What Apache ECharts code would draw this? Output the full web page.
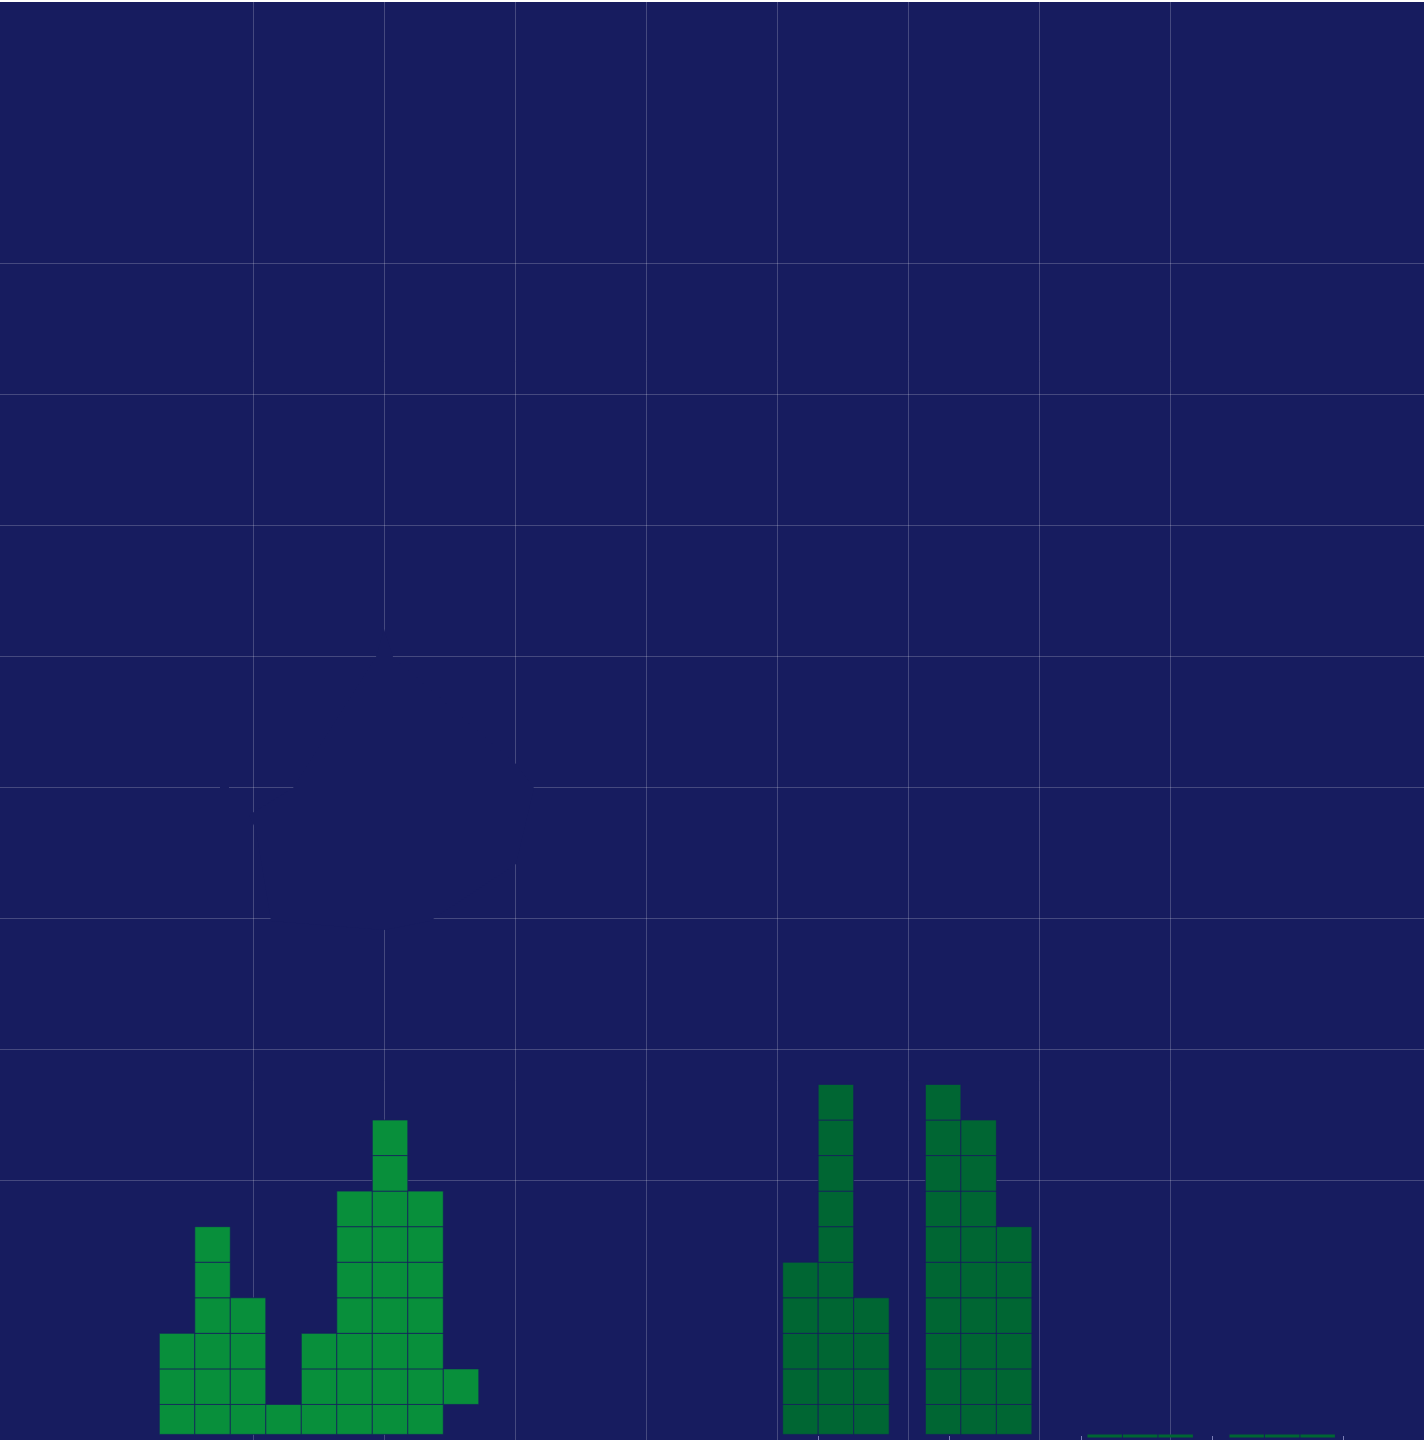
<!DOCTYPE html>
<html>
<head>
<meta charset="utf-8">
<script src="https://cdn.jsdelivr.net/npm/echarts@6/dist/echarts.min.js"></script>
<style>
html,body{margin:0;padding:0;background:#ffffff;}
#c{position:absolute;left:0;top:2px;width:1424px;height:1438px;}
</style>
</head>
<body>
<div id="c"></div>
<script>
// ---- data (cell units: one cell = one unit) ----
const lightColumns = [0, 1, 2, 3, 4, 5, 6, 7, 8];
const lightBase    = [0, 0, 0, 0, 0, 0, 0, 0, 1];
const lightCounts  = [3, 6, 4, 1, 3, 7, 9, 7, 1];

const darkGroupStarts = [17.56, 21.58, 26.13, 30.13];
const darkCounts = [
  [5, 10, 4],
  [10, 9, 6],
  [0, 0, 0],
  [0, 0, 0]
];

const gridSteps = 9;        // split-line intervals on each guide axis
const bottomTickSteps = 4;  // intervals of the bottom tick axis
const cellCols = 35;        // cell-axis extent (columns)
const cellRows = 36;        // cell-axis extent (rows)

// ---- style / layout ----
const BG = '#171c5f';
const LIGHT = '#088f3b';
const DARK = '#006633';
const GRIDLINE = 'rgba(255,255,255,0.2)';
const CELL_STROKE = 'rgba(23,28,95,0.7)';
const BASE_CUT = 5.6;   // px of the first row hidden below the baseline
const SLIVER_H = 3;

const lightData = lightColumns.map((c, i) => [c, lightBase[i], lightCounts[i]]);
const darkData = [];
darkGroupStarts.forEach((s, g) => {
  darkCounts[g].forEach((n, j) => darkData.push([s + j, 0, n]));
});

function makeRender(color) {
  return function (params, api) {
    const x = api.value(0), base = api.value(1), count = api.value(2);
    const cs = params.coordSys;
    const clip = { x: cs.x, y: cs.y, width: cs.width, height: cs.height - BASE_CUT };
    const x0 = api.coord([x, 0])[0];
    const x1 = api.coord([x + 1, 0])[0];
    const children = [];
    if (count === 0) {
      children.push({
        type: 'rect',
        shape: { x: x0 + 0.5, y: clip.y + clip.height, width: x1 - x0 - 1, height: SLIVER_H },
        style: { fill: color }
      });
    }
    for (let r = base; r < base + count; r++) {
      const yTop = api.coord([0, r + 1])[1];
      const yBot = api.coord([0, r])[1];
      const shape = echarts.graphic.clipRectByRect(
        { x: x0, y: yTop, width: x1 - x0, height: yBot - yTop }, clip);
      if (shape) {
        children.push({
          type: 'rect',
          shape: shape,
          style: { fill: color, stroke: CELL_STROKE, lineWidth: 1 }
        });
      }
    }
    return { type: 'group', children: children };
  };
}

const hiddenAxis = (gi, min, max) => ({
  gridIndex: gi, type: 'value', min: min, max: max, show: false
});

// background-coloured patch that hides part of the guide lines (decorative)
const patch = [[384,627],[393,655],[516,762],[534,786],[516,862],[430,919],[384,928],
               [271,919],[256,828],[249,813],[293,786],[376,655]];

const chart = echarts.init(document.getElementById('c'), null, { renderer: 'canvas' });
chart.setOption({
  backgroundColor: BG,
  animation: false,
  graphic: [
    { type: 'polygon', z: 1, silent: true, shape: { points: patch }, style: { fill: BG } },
    { type: 'rect', z: 1, silent: true, shape: { x: 220, y: 784, width: 9, height: 4 }, style: { fill: BG } }
  ],
  grid: [
    { left: 122.8, width: 1178.1, top: 0, bottom: 0 },          // vertical guide lines
    { left: 0, right: 0, top: 130.8, height: 1178.1 },          // horizontal guide lines
    { left: 159.3, width: 1242.5, top: 158, height: 1281.6 },   // cells
    { left: 818.3, width: 525, top: 0, height: 1434 }           // bottom ticks
  ],
  xAxis: [
    {
      gridIndex: 0, type: 'value', min: 0, max: gridSteps, interval: 1,
      axisLine: { show: false }, axisTick: { show: false }, axisLabel: { show: false },
      splitLine: { show: true, showMinLine: false, showMaxLine: false,
        lineStyle: { color: GRIDLINE, width: 1 } }
    },
    hiddenAxis(1, 0, 1),
    hiddenAxis(2, 0, cellCols),
    {
      gridIndex: 3, type: 'value', min: 0, max: bottomTickSteps, interval: 1,
      axisLine: { show: false }, axisLabel: { show: false }, splitLine: { show: false },
      axisTick: { show: true, length: 4, lineStyle: { color: 'rgba(190,190,240,0.6)', width: 1 } }
    }
  ],
  yAxis: [
    hiddenAxis(0, 0, 1),
    {
      gridIndex: 1, type: 'value', min: 0, max: gridSteps, interval: 1,
      axisLine: { show: false }, axisTick: { show: false }, axisLabel: { show: false },
      splitLine: { show: true, showMinLine: false, showMaxLine: false,
        lineStyle: { color: GRIDLINE, width: 1 } }
    },
    hiddenAxis(2, 0, cellRows),
    hiddenAxis(3, 0, 1)
  ],
  series: [
    {
      type: 'custom', name: 'light', xAxisIndex: 2, yAxisIndex: 2, z: 3,
      clip: false, renderItem: makeRender(LIGHT),
      encode: { x: 0, y: 1 }, data: lightData
    },
    {
      type: 'custom', name: 'dark', xAxisIndex: 2, yAxisIndex: 2, z: 3,
      clip: false, renderItem: makeRender(DARK),
      encode: { x: 0, y: 1 }, data: darkData
    }
  ]
});
</script>
</body>
</html>
